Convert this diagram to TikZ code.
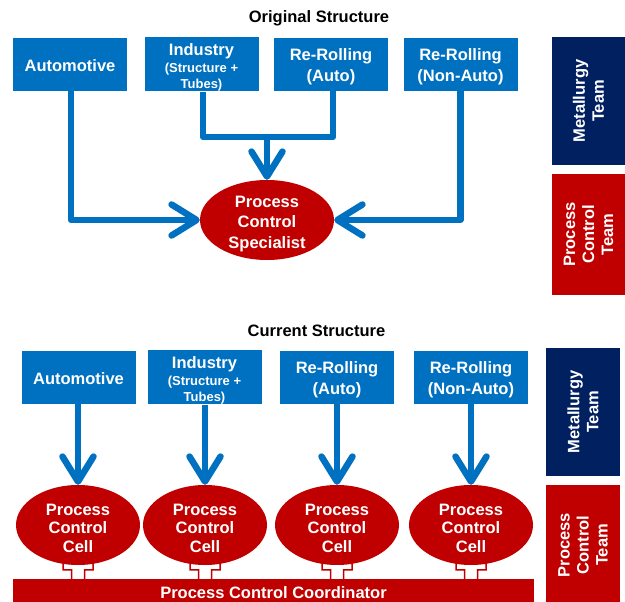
\documentclass[tikz,border=0pt]{standalone}
\usepackage{fontspec}
\setmainfont{Liberation Sans}
\usetikzlibrary{arrows.meta,shapes.geometric,calc,backgrounds}
\definecolor{mblue}{HTML}{0070C0}
\definecolor{mnavy}{HTML}{002060}
\definecolor{mred}{HTML}{C00000}
\begin{document}
\begin{tikzpicture}[x=1pt,y=-1pt,
  font=\bfseries\fontsize{16.5}{21}\selectfont,
  bluebox/.style={fill=mblue, draw=white, line width=0.6pt, text=white, minimum width=115pt, minimum height=54pt, align=center, inner sep=0pt},
  teambox/.style={rotate=90, text=white, minimum height=74pt, align=center, inner sep=0pt, font=\bfseries\fontsize{16.5}{19}\selectfont},
  redell/.style={ellipse, fill=mred, text=white, align=center, inner xsep=0pt, inner ysep=-8pt, minimum width=124pt, minimum height=80pt},
  link/.style={draw=mblue, line width=6.5pt, line join=round},
  conn/.style={link, -{Straight Barb[length=25pt,width=31pt,line width=6.5pt,round]}},
  hollow/.style={fill=white, draw=mred, line width=1.5pt, line join=miter},
  titletext/.style={text=black}
]
\useasboundingbox (0,0) rectangle (625,602);

% ---------- Original structure ----------
\node[titletext] (t1) at (319,18.5) {Original Structure};
\node[bluebox] (auto1) at (70,64) {\rule{0pt}{15pt}Automotive};
\node[bluebox] (ind1) at (201.5,64) {\rule{0pt}{19.5pt}Industry\\[-4pt]{\fontsize{13}{16}\selectfont (Structure +}\\[-5pt]{\fontsize{13}{16}\selectfont Tubes)}};
\node[bluebox] (rra1) at (331,64) {\rule{0pt}{16.5pt}Re-Rolling\\(Auto)};
\node[bluebox] (rrn1) at (460.5,64) {\rule{0pt}{16.5pt}Re-Rolling\\(Non-Auto)};
\node[teambox, fill=mnavy, minimum width=128pt] (met1) at (588.5,101) {Metallurgy\\Team};
\node[teambox, fill=mred, minimum width=121pt] (pct1) at (588.5,234.5) {Process\\Control\\Team};
\node[redell, minimum width=134pt, font=\bfseries\fontsize{16.5}{20.5}\selectfont] (spec) at (267,220) {\rule{0pt}{19pt}Process\\Control\\Specialist};

\coordinate (mid) at (267,137);
\draw[conn] ($(auto1.south)+(1,0)$) |- (spec.west);
\draw[conn] (rrn1.south) |- (spec.east);
\draw[link] ($(ind1.south)+(1.5,0)$) |- (mid) -| ($(rra1.south)+(2,0)$);
\draw[conn] (mid) -- (spec.north);

% ---------- Current structure ----------
\node[titletext] (t2) at (316.5,330.5) {Current Structure};
\node[bluebox] (auto2) at (78.5,377) {\rule{0pt}{15pt}Automotive};
\node[bluebox] (ind2) at (204.5,377) {\rule{0pt}{19.5pt}Industry\\[-4pt]{\fontsize{13}{16}\selectfont (Structure +}\\[-5pt]{\fontsize{13}{16}\selectfont Tubes)}};
\node[bluebox] (rra2) at (337,377) {\rule{0pt}{16.5pt}Re-Rolling\\(Auto)};
\node[bluebox] (rrn2) at (471,377) {\rule{0pt}{16.5pt}Re-Rolling\\(Non-Auto)};
\node[teambox, fill=mnavy, minimum width=128pt] (met2) at (583,412) {Metallurgy\\Team};
\node[teambox, fill=mred, minimum width=120pt] (pct2) at (583,545) {Process\\Control\\Team};

\tikzset{cellell/.style={redell, font=\bfseries\fontsize{16.5}{18.5}\selectfont}}
\node[cellell] (c1) at (78,525) {\rule{0pt}{17.5pt}Process\\Control\\Cell};
\node[cellell] (c2) at (205,525) {\rule{0pt}{17.5pt}Process\\Control\\Cell};
\node[cellell] (c3) at (337,525) {\rule{0pt}{17.5pt}Process\\Control\\Cell};
\node[cellell] (c4) at (471,525) {\rule{0pt}{17.5pt}Process\\Control\\Cell};

\node[fill=mred, text=white, minimum width=521pt, minimum height=27pt, inner sep=0pt] (bar) at (273.5,592.5) {Process Control Coordinator};

\foreach \b/\c in {auto2/c1, ind2/c2, rra2/c3, rrn2/c4}
  \draw[conn] (\b.south -| \c.north) -- (\c.north);

\begin{scope}[on background layer]
\foreach \c in {c1,c2,c3,c4}
  \draw[hollow] ($(\c.south |- bar.north)+(-6.5,1)$) -- ++(0,-10) -- ++(-8.5,0) -- ++(0,-6) -- ++(15,-14) -- ++(15,14) -- ++(0,6) -- ++(-8.5,0) -- ++(0,10);
\end{scope}
\end{tikzpicture}
\end{document}
